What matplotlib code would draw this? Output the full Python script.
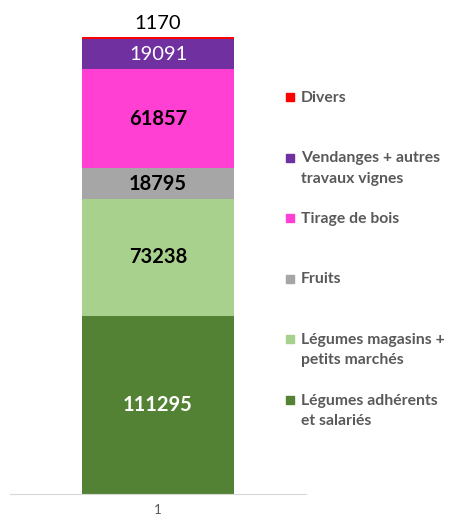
import matplotlib
matplotlib.use("Agg")
import matplotlib.pyplot as plt
from matplotlib.patches import Rectangle

categories = ["Légumes adhérents\net salariés", "Légumes magasins +\npetits marchés", "Fruits",
              "Tirage de bois", "Vendanges + autres\ntravaux vignes", "Divers"]
values = [111295, 73238, 18795, 61857, 19091, 1170]
colors = ["#548235", "#A9D18E", "#A6A6A6", "#FF40D2", "#7030A0", "#FF0000"]
label_colors = ["white", "black", "black", "black", "white", "black"]
label_weights = ["bold", "bold", "bold", "bold", "normal", "normal"]
x_ticks = ["1"]

plt.rcParams['font.family'] = ['Lato', 'DejaVu Sans']
fig = plt.figure(figsize=(4.49, 5.16), dpi=100)
W, H = 449, 516
ax = fig.add_axes([10 / W, (516 - 494) / H, (306 - 10) / W, (494 - 10) / H])

total = sum(values)
ax.set_ylim(0, total * 484 / 457)
ax.set_xlim(0.5, 1.5)
bottom = 0
bw = 152 / 296
for v, c, lc, lw in zip(values, colors, label_colors, label_weights):
    ax.bar(1, v, bottom=bottom, width=bw, color=c, edgecolor="none")
    if v < 5000:
        ax.text(1, bottom + v + total * 0.012, f"{v}", ha="center", va="bottom",
                fontsize=14.5, color=lc, fontweight=lw)
    else:
        ax.text(1, bottom + v / 2, f"{v}", ha="center", va="center",
                fontsize=14.5, color=lc, fontweight=lw)
    bottom += v

for s in ["top", "right", "left"]:
    ax.spines[s].set_visible(False)
ax.spines["bottom"].set_color("#D9D9D9")
ax.set_yticks([])
ax.set_xticks([1])
ax.set_xticklabels(x_ticks, color="#595959", fontsize=9.5)
ax.tick_params(axis="x", length=0, pad=7)

# legend (reverse order, top = Divers)
y0 = 97
step = 60.6
for i, (cat, c) in enumerate(zip(categories[::-1], colors[::-1])):
    y = y0 + i * step
    fig.patches.append(Rectangle((286 / W, 1 - (y + 4) / H), 8 / W, 8 / H,
                                 transform=fig.transFigure, color=c, figure=fig))
    fig.text(301 / W, 1 - (y - 6.5) / H, cat, ha="left", va="top", fontsize=11.3,
             fontweight="bold", color="#595959", linespacing=1.6)

fig.savefig("out.png", dpi=100)
